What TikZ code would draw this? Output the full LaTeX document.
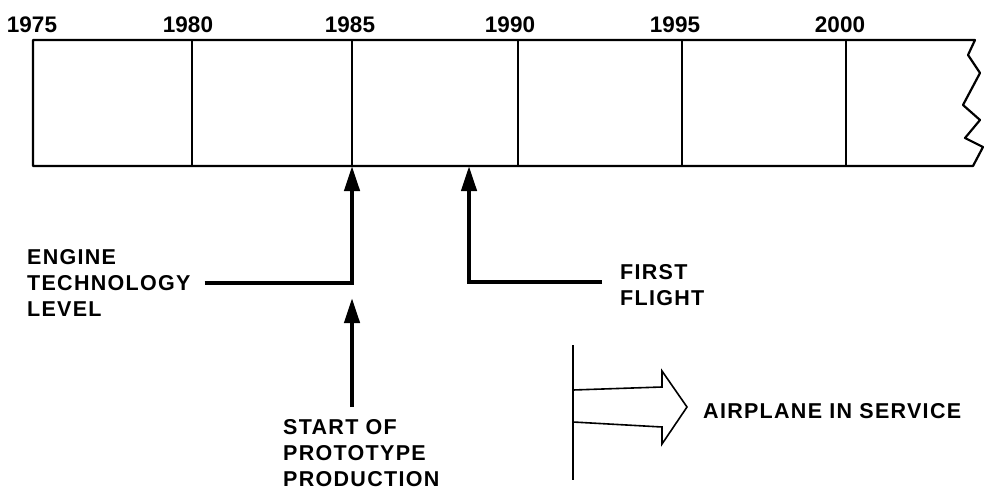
\documentclass[tikz,border=0pt]{standalone}
\usepackage{fontspec}
\setmainfont{Liberation Sans}
\newfontfamily\labelfont{Liberation Sans}[LetterSpace=6]
\usetikzlibrary{calc, arrows.meta}

\tikzset{
	year/.style={font=\bfseries\fontsize{22.5}{26}\selectfont, inner sep=0pt},
	event/.style={font=\labelfont\bfseries\fontsize{21.5}{26}\selectfont, align=left, inner sep=0pt},
	pointer/.style={line width=4.3pt, -{Triangle[length=25pt, width=15pt]}},
}

\begin{document}
\begin{tikzpicture}[x=1pt, y=-1pt]
					\useasboundingbox (0,0) rectangle (984,489);
					
					\def\top{40};
					\def\bot{166};
					
					% time axis
					\begin{scope}[line width=2.2pt, line join=round]
						\draw (975,\top) -- (33,\top) -- (33,\bot) -- (973,\bot)
							-- (983,147) -- (965,138) -- (980,120) -- (963,105)
							-- (980,73) -- (968,55) -- cycle;
						\foreach \x in {192,352,518,682,846}
							\draw[line width=1.8pt] (\x,\top) -- (\x,\bot);
					\end{scope}
					
					\foreach \yr/\x in {1975/32, 1980/188, 1985/350, 1990/510, 1995/675, 2000/840}
						\node [year] (y\yr) at (\x,24.5) {\yr};
					
					\coordinate (t85) at (352,\bot);
					\coordinate (tff) at (469,\bot);
					
					% events
					\begin{scope}
						\node [event, anchor=west] (engine) at (27,283) {ENGINE\\TECHNOLOGY\\LEVEL};
						\node [event, anchor=west] (flight) at (620,285) {FIRST\\FLIGHT};
						\node [event, anchor=west] (proto) at (283,453) {START OF\\PROTOTYPE\\PRODUCTION};
						
						\coordinate (p0) at (352,407);
						\coordinate (p1) at (352,298);
						
						\draw [pointer] ([xshift=14pt]engine.east) -| (t85);
						\draw [pointer] ([xshift=-18pt, yshift=3pt]flight.west) -| (tff);
						\draw [pointer] (p0) -- (p1);
					\end{scope}
					
					% in service
					\begin{scope}[line join=miter]
						\coordinate (s0) at (573,345);
						\coordinate (s1) at (573,480);
						\draw [line width=2pt] (s0) -- (s1);
						\draw [line width=1.6pt] (573,390) -- (662,387) -- (662,371) -- (687,407)
							-- (662,444) -- (662,427) -- (573,422);
						\node [event, anchor=west] (service) at (703,411) {AIRPLANE IN SERVICE};
					\end{scope}
				\end{tikzpicture}
\end{document}
